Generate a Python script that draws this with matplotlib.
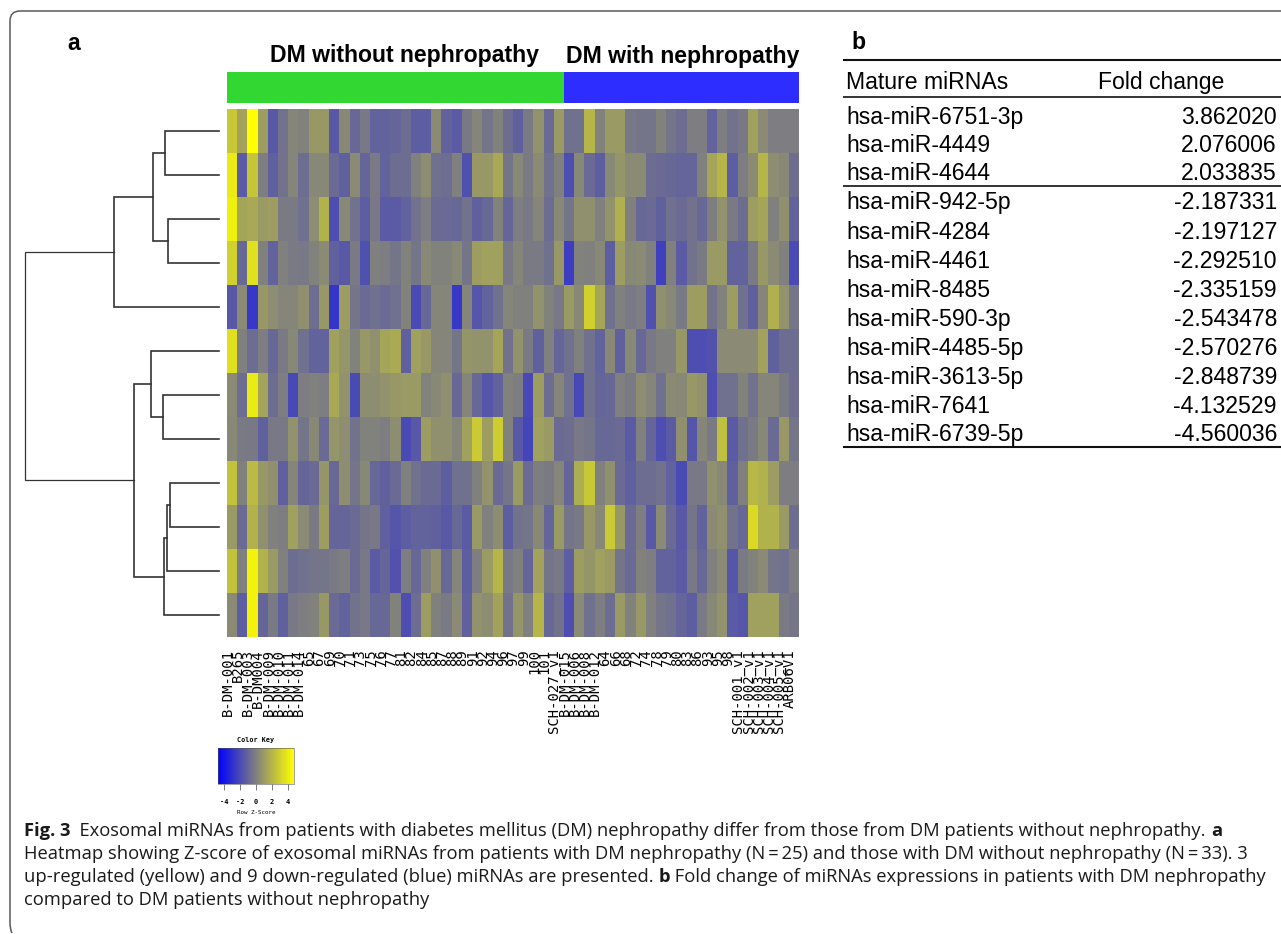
import numpy as np
import matplotlib
matplotlib.use("Agg")
import matplotlib.pyplot as plt
from matplotlib.colors import LinearSegmentedColormap, Normalize
from matplotlib.cm import ScalarMappable
from matplotlib.path import Path
from matplotlib.patches import PathPatch, Rectangle

W, H = 1281, 934

# heatmap values (rows top to bottom)
row1 = [2.7,1.3,4.8,1.1,-1.5,-0.5,0.2,0.1,0.9,0.9,-1.5,0.3,-0.9,-0.3,-1.1,-1.1,-1.0,-0.7,-1.3,-1.3,0.4,-1.1,-1.4,-0.3,0.2,-0.4,0.1,-0.7,
        -1.2,-0.2,0.7,-0.8,1.0,-0.6,-0.6,2.0,0.1,1.0,1.0,-0.3,-0.4,-0.4,0.1,-0.4,-0.7,-0.1,-0.1,-1.1,-0.1,-0.5,-0.3,1.2,0.4,-0.1,-0.1,-0.1]
row2 = [4.0,-1.4,2.6,-0.1,-1.2,-0.5,0.2,-0.7,0.3,0.3,-0.8,-1.2,0.4,-1.0,-0.2,-1.1,-0.7,-0.7,0.0,0.5,-0.6,-0.7,0.0,-1.8,0.9,0.9,1.5,-0.4,
        0.3,-0.2,0.4,-0.6,0.0,-1.9,0.3,-0.8,-1.3,0.3,0.8,0.4,0.4,-0.7,-0.8,-0.9,-1.0,-1.0,0.0,1.4,2.0,-1.3,-0.1,0.4,2.0,0.5,0.3,-0.7]
row3 = [4.2,1.4,1.5,1.0,1.1,-0.2,-0.2,-0.6,0.5,1.9,-1.9,0.3,-0.5,-1.3,-0.3,-1.4,-1.4,-1.1,-0.5,-0.1,-0.8,-0.8,-0.9,-0.5,-1.2,-0.9,0.1,-1.0,
        -0.1,-0.3,0.2,-0.7,0.3,-0.4,0.6,0.6,0.0,0.7,1.8,0.0,-0.9,-0.8,-1.2,-0.6,-0.8,-0.5,-0.9,-0.1,0.7,-0.2,-0.7,1.1,1.4,0.0,0.6,-1.1]
row4 = [3.0,-0.9,3.6,0.0,-1.1,0.0,-0.2,-0.3,0.1,0.4,-1.2,-1.5,-0.2,-1.8,0.0,-0.1,-0.4,0.1,-0.4,0.3,0.1,0.1,0.3,-0.4,1.1,1.2,1.2,-0.3,
        0.2,-0.2,-0.2,-0.6,0.9,-2.5,0.1,0.0,0.3,-1.3,1.1,0.3,0.4,0.0,-2.4,0.0,-1.4,-0.5,-0.2,1.0,1.0,-1.1,-1.1,-0.2,0.9,0.4,0.0,-2.0]
row5 = [-1.5,0.4,-2.7,0.9,0.5,0.2,0.2,0.6,-0.7,0.9,-2.8,1.1,-0.4,-0.8,-0.6,-0.8,-0.6,0.1,-2.0,-0.9,0.2,0.2,-2.7,0.2,-1.6,-1.1,-0.6,0.2,
        0.0,0.0,0.7,0.1,-0.3,1.0,0.3,3.0,1.4,-0.6,0.0,-0.3,-0.1,-1.8,0.6,0.3,-0.2,1.1,1.1,-0.5,0.1,1.1,-0.6,-1.2,0.2,1.8,0.7,-0.4]
row6 = [3.6,0.0,-0.7,-0.1,-0.9,-0.2,0.3,-0.6,-1.1,-1.1,1.2,0.8,0.1,0.9,0.6,1.4,1.6,-1.2,1.2,0.9,0.2,0.2,-0.4,0.8,0.7,0.7,1.4,-0.5,
        0.7,-0.2,-1.2,0.0,-1.0,-0.6,0.0,-0.6,-1.1,0.3,-1.2,0.3,-0.9,-0.3,0.0,0.0,0.9,-1.9,-1.9,-1.7,0.4,0.4,0.4,0.4,1.3,-1.2,-0.7,-0.7]
row7 = [0.4,-0.7,4.0,1.4,-0.7,-0.1,-2.1,-0.1,0.0,-0.1,1.5,0.7,-2.0,0.5,0.5,0.7,0.9,1.0,1.0,0.1,0.3,0.6,-0.9,0.2,-0.9,-1.6,-1.1,0.1,
        -0.1,-2.1,1.1,-0.7,0.2,-0.6,-2.1,-0.6,-1.0,-0.9,0.0,-0.2,0.5,0.2,-0.6,0.4,0.3,0.9,0.7,-1.9,-0.6,-0.6,0.1,-0.5,0.2,0.2,-0.2,-0.7]
row8 = [0.3,-0.2,-0.3,-1.2,-0.3,-0.3,0.7,-0.4,0.3,-0.8,0.8,0.5,-0.5,0.1,0.1,-0.1,0.5,-2.0,-1.5,1.1,0.6,0.6,0.2,1.2,2.8,1.1,2.9,0.1,
        -1.5,-2.2,1.2,1.0,-0.8,-0.7,-0.3,-0.4,-0.9,-0.9,-0.8,-1.4,0.0,-1.0,-1.9,-1.4,0.6,-1.6,0.2,-0.2,2.4,-1.4,-0.6,-0.2,0.3,-0.8,0.9,-0.4]
row9 = [2.5,0.0,2.2,0.9,0.6,-1.2,0.2,-1.0,-0.8,0.8,-0.9,0.5,-0.4,0.3,-0.9,-1.2,-0.8,0.0,-0.6,-0.8,-0.8,-1.3,-0.6,-0.6,0.0,0.7,-0.8,-0.4,
        1.0,-0.8,-0.1,-0.2,0.2,-1.0,1.7,2.7,0.0,0.6,-0.8,-1.2,-0.7,-0.7,-0.5,-1.1,-2.0,-0.3,-0.3,0.6,0.3,-1.2,0.0,2.1,1.9,1.1,-0.1,-0.1]
row10 = [1.0,-0.8,1.9,0.6,0.0,-0.1,1.2,0.4,-0.2,1.1,-1.0,-1.0,-0.8,-0.4,-0.3,-1.2,-1.6,-1.3,-1.1,-1.1,-1.2,-1.5,-0.9,-1.4,1.0,0.0,0.5,-1.3,
         -0.5,-0.4,0.3,-1.0,1.0,-0.4,-0.3,0.9,0.3,2.8,0.9,-0.8,-0.1,-1.5,0.4,-0.8,-1.5,-0.4,-1.1,0.4,0.6,-0.5,-0.9,3.4,1.9,1.9,1.0,-0.7]
row11 = [2.5,0.0,4.3,1.9,1.0,0.0,-0.7,-0.6,-0.4,-0.4,-0.2,-0.1,-0.8,-0.3,-1.4,-1.0,-1.7,-0.1,-0.9,0.0,0.6,-0.9,0.2,-1.3,-0.1,1.0,2.0,-0.3,
         0.0,-1.0,1.3,-0.4,-0.3,-1.3,1.1,0.8,1.2,1.0,-0.4,-0.8,0.1,-0.1,-1.1,-1.1,-1.4,-0.3,-0.9,0.0,0.4,-1.6,-0.2,0.1,0.4,-0.4,-0.6,-0.1]
row12 = [0.4,-1.3,4.3,-1.0,-0.2,-1.2,-0.3,-0.1,0.1,0.9,-0.8,-1.1,-0.5,-0.3,-0.9,-0.9,0.1,-1.9,-0.7,1.1,0.0,-0.2,0.4,-1.2,0.7,0.5,1.3,-0.5,
         0.8,0.0,2.0,-0.9,-0.5,-1.9,0.4,-0.6,-0.1,-0.7,1.0,0.1,0.9,0.0,-0.4,-0.6,-1.0,-1.3,-0.2,0.3,0.7,-1.4,-1.6,1.2,1.2,1.2,-0.2,-0.4]
rows = [row1,row2,row3,row4,row5,row6,row7,row8,row9,row10,row11,row12]

samples = ["B-DM-001","B265","B-DM-003","B-DM004","B-DM-009","B-DM-010","B-DM-011","B-DM-014",
           "65","67","69","70","71","73","75","76","77","81","82","84","85","87","88","89",
           "91","92","94","96","97","99","100","101","SCH-027_v1",
           "B-DM-015","B-DM-006","B-DM-008","B-DM-012","64","66","68","72","74","78","79","80","83","86","93","95","98",
           "SCH-001_v1","SCH-002_v1","SCH-003_v1","SCH-004_v1","SCH-005_v1","ARB06V1"]
n_without = 33
n_with = 23
group_names = ["DM without nephropathy","DM with nephropathy"]

# dendrogram merges: (child a, child b, distance). negative = leaf row -(i+1)
merges = [(-1,-2,54),(-3,-4,51),(0,1,66),(2,-5,105),(-7,-8,56),(-6,4,68),(-9,-10,49),(6,-11,52),(7,-12,55),(5,8,85),(3,9,194)]

miRNAs = ["hsa-miR-6751-3p","hsa-miR-4449","hsa-miR-4644","hsa-miR-942-5p","hsa-miR-4284","hsa-miR-4461",
          "hsa-miR-8485","hsa-miR-590-3p","hsa-miR-4485-5p","hsa-miR-3613-5p","hsa-miR-7641","hsa-miR-6739-5p"]
fold = ["3.862020","2.076006","2.033835","-2.187331","-2.197127","-2.292510",
        "-2.335159","-2.543478","-2.570276","-2.848739","-4.132529","-4.560036"]
table_y = [124,152,180,209,239,268,297,326,355,384,413,441]

caption = [[("Fig. 3",True),("  Exosomal miRNAs from patients with diabetes mellitus (DM) nephropathy differ from those from DM patients without nephropathy. ",False),("a",True)],
           [("Heatmap showing Z-score of exosomal miRNAs from patients with DM nephropathy (N\u2009=\u200925) and those with DM without nephropathy (N\u2009=\u200933). 3",False)],
           [("up-regulated (yellow) and 9 down-regulated (blue) miRNAs are presented. ",False),("b",True),(" Fold change of miRNAs expressions in patients with DM nephropathy",False)],
           [("compared to DM patients without nephropathy",False)]]
caption_y = [836,859,882,905]

key_cmap = LinearSegmentedColormap.from_list("bgy",["#0000ff","#808080","#ffff00"])
zlim = 4.8


def px_axes(fig, x0, y0, x1, y1):
    # axes from pixel box, y from the top
    return fig.add_axes([x0/W, 1-y1/H, (x1-x0)/W, (y1-y0)/H])


plt.rcParams["font.family"] = ["Liberation Sans","DejaVu Sans"]
plt.rcParams["axes.unicode_minus"] = False
fig = plt.figure(figsize=(W/100, H/100), dpi=100)

# page overlay in pixel coords
page = fig.add_axes([0,0,1,1])
page.set_xlim(0,W)
page.set_ylim(H,0)
page.axis("off")

# rounded frame
frame = Path([(W,11),(20,11),(10,11),(10,21),(10,922),(10,930),(12,933)],
             [Path.MOVETO,Path.LINETO,Path.CURVE3,Path.CURVE3,Path.LINETO,Path.CURVE3,Path.CURVE3])
page.add_patch(PathPatch(frame,fc="none",ec="#5a5a5a",lw=1.1))

page.text(67,50,"a",fontsize=16.6,fontweight="bold")
page.text(851,49,"b",fontsize=16.6,fontweight="bold")

# heatmap
ax = px_axes(fig,227,109,799,637)
ax.imshow(np.array(rows),cmap=key_cmap,vmin=-zlim,vmax=zlim,aspect="auto",interpolation="nearest")
ax.axis("off")

# group bar
bar = px_axes(fig,227,72,799,103)
bar.set_xlim(0,n_without+n_with)
bar.set_ylim(0,1)
bar.add_patch(Rectangle((0,0),n_without,1,color="#32d732",lw=0))
bar.add_patch(Rectangle((n_without,0),n_with,1,color="#2d2dff",lw=0))
bar.axis("off")
page.text(404.5,62,group_names[0],fontsize=16.6,fontweight="bold",ha="center")
page.text(683,63,group_names[1],fontsize=16.6,fontweight="bold",ha="center")

# column labels
col_w = 572/len(samples)
for i,s in enumerate(samples):
    page.text(227+col_w*(i+0.5)-4.5,649,s,rotation=90,ha="center",va="top",
              family="DejaVu Sans Mono",fontsize=10,color="black")

# dendrogram
den = px_axes(fig,25,109,219,637)
den.set_xlim(194,0)
den.set_ylim(len(rows)-0.5,-0.5)
den.axis("off")
nodes = []
def pos(c):
    return (0,-c-1) if c<0 else nodes[c]
for a,b,d in merges:
    ha,ya = pos(a)
    hb,yb = pos(b)
    lw = 0.9 if d==194 else 1.2
    den.plot([ha,d,d,hb],[ya,ya,yb,yb],color="#333333",lw=lw,solid_joinstyle="miter",clip_on=False)
    nodes.append((d,(ya+yb)/2))

# colour key
cax = px_axes(fig,218,748,294,784)
cb = fig.colorbar(ScalarMappable(Normalize(-zlim,zlim),key_cmap),cax=cax,orientation="horizontal",ticks=[-4,-2,0,2,4])
cb.outline.set_linewidth(0.4)
cb.outline.set_edgecolor("#555555")
cax.tick_params(length=4,width=0.5,labelsize=5,pad=7,color="#444444")
for t in cax.get_xticklabels():
    t.set_family("DejaVu Sans Mono")
    t.set_fontweight("bold")
page.text(256,740,"Color Key",family="DejaVu Sans Mono",fontsize=4.9,fontweight="bold",ha="center",va="center")
page.text(256,813,"Row Z-Score",family="DejaVu Sans Mono",fontsize=4.2,ha="center",va="center")

# table
for y,lw in [(60,1.5),(97,1.2),(186,1.2),(447,1.5)]:
    page.plot([843,W],[y,y],color="#111111",lw=lw,solid_capstyle="butt")
page.text(846,89,"Mature miRNAs",fontsize=16.6)
page.text(1098,89,"Fold change",fontsize=16.6)
for name,val,y in zip(miRNAs,fold,table_y):
    page.text(846,y,name,fontsize=16.6)
    page.text(1277,y,val,fontsize=16.6,ha="right")

# caption with bold runs
rend = fig.canvas.get_renderer()
for line,y in zip(caption,caption_y):
    x = 24
    for txt,bold in line:
        t = page.text(x,y,txt,fontsize=13.2,family="Open Sans",
                      fontweight="bold" if bold else "normal",color="#1a1a1a")
        x = page.transData.inverted().transform(t.get_window_extent(rend))[1,0]

fig.savefig("out.png",dpi=100)
